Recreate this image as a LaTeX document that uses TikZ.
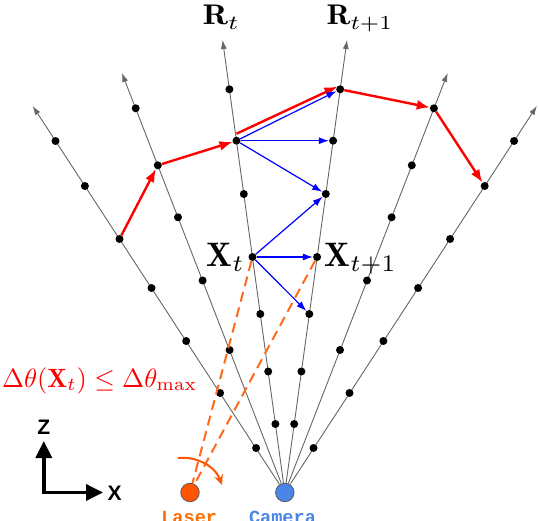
\documentclass[tikz,border=0pt]{standalone}
\usepackage{graphicx}
\usepackage{fontspec}
\newfontfamily\axfont{Liberation Sans}
\newfontfamily\mfont{Liberation Mono}
\usetikzlibrary{arrows.meta}
\definecolor{raygray}{HTML}{666666}
\definecolor{laserorange}{HTML}{FF5500}
\definecolor{dashorange}{HTML}{FF6A1A}
\definecolor{lasertext}{HTML}{FF6D01}
\definecolor{camblue}{HTML}{4A86E8}
\definecolor{edgegray}{HTML}{5A5A5A}
\pgfdeclarelayer{bg}
\pgfsetlayers{bg,main}
\begin{document}
\begin{tikzpicture}[x=1pt,y=-1pt,
  ray/.style={draw=raygray, line width=0.9pt, -{Latex[length=9pt,width=6pt]}},
  dot/.style={circle, fill=black, inner sep=0pt, minimum size=8pt},
  redarrow/.style={draw=red, line width=2.4pt, -{Latex[length=13pt,width=10pt]}},
  bluearrow/.style={draw=blue, line width=1.2pt, -{Latex[length=10pt,width=7pt]}},
  dashline/.style={draw=dashorange, line width=2pt, dash pattern=on 10pt off 6pt},
  sensor/.style={circle, draw=edgegray, line width=0.8pt, inner sep=0pt, minimum size=18.5pt},
  lbl/.style={inner sep=0pt, anchor=base},
  axis/.style={draw=black, line width=3.5pt, {Triangle[length=17pt,width=16pt]}-{Triangle[length=17pt,width=16pt]}},
  arcarrow/.style={draw=laserorange, line width=2pt, -{Stealth[length=10pt,width=9pt]}}
]
\useasboundingbox (0,0) rectangle (538,521);

% sensors
\node[sensor, fill=camblue] (cam) at (284.8,492.5) {};
\node[sensor, fill=laserorange] (laser) at (190,492.5) {};

% ray tips
\coordinate (t1) at (32.7,106);
\coordinate (t2) at (121.9,73);
\coordinate (t3) at (222.6,40);
\coordinate (t4) at (347.0,40);
\coordinate (t5) at (447.7,73);
\coordinate (t6) at (536.9,106);

\begin{pgfonlayer}{bg}
\foreach \t in {t1,t2,t3,t4,t5,t6} \draw[ray] (cam) -- (\t);
\end{pgfonlayer}

% dots ray 1
\node[dot] (a1) at (55.5,141) {};
\node[dot] (a2) at (84.9,186) {};
\node[dot] (a3) at (119.5,239) {};
\node[dot] (a4) at (151.5,288) {};
\node[dot] (a5) at (186.2,341) {};
\node[dot] (a6) at (220.1,393) {};
\node[dot] (a7) at (256.1,448) {};
% ray 2
\node[dot] (b1) at (135.7,108.3) {};
\node[dot] (b2) at (157.8,165.3) {};
\node[dot] (b3) at (178.0,217.3) {};
\node[dot] (b4) at (202.6,280.5) {};
\node[dot] (b5) at (229.6,350) {};
% ray 3
\node[dot] (c1) at (229.4,89.3) {};
\node[dot] (c2) at (236.5,140.7) {};
\node[dot] (c3) at (243.8,194) {};
\node[dot] (c4) at (252.5,257) {};
\node[dot] (c5) at (260.3,314) {};
\node[dot] (c6) at (268.2,371.5) {};
\node[dot] (c7) at (275.4,424) {};
% ray 4
\node[dot] (d1) at (340.2,89.3) {};
\node[dot] (d2) at (333.1,140.7) {};
\node[dot] (d3) at (325.8,194) {};
\node[dot] (d4) at (317.1,257) {};
\node[dot] (d5) at (309.3,314) {};
\node[dot] (d6) at (301.4,371.5) {};
\node[dot] (d7) at (294.2,424) {};
% ray 5
\node[dot] (e1) at (433.9,108.3) {};
\node[dot] (e2) at (411.8,165.3) {};
\node[dot] (e3) at (391.6,217.3) {};
\node[dot] (e4) at (367.0,280.5) {};
\node[dot] (e5) at (340.0,350) {};
% ray 6
\node[dot] (f1) at (514.1,141) {};
\node[dot] (f2) at (484.7,186) {};
\node[dot] (f3) at (450.1,239) {};
\node[dot] (f4) at (418.1,288) {};
\node[dot] (f5) at (383.4,341) {};
\node[dot] (f6) at (349.5,393) {};
\node[dot] (f7) at (313.5,448) {};

% red path
\draw[redarrow] (a3) -- (b2);
\draw[redarrow] (b2) -- (c2);
\draw[redarrow, shorten >=3pt] ([yshift=7pt]c2.center) -- ([yshift=4pt]d1.center);
\draw[redarrow] (d1) -- (e1);
\draw[redarrow] (e1) -- (f2);

% blue arrows
\draw[bluearrow] (c2) -- (d1);
\draw[bluearrow] (c2) -- (d2);
\draw[bluearrow] (c2) -- (d3);
\draw[bluearrow] (c4) -- (d3);
\draw[bluearrow] (c4) -- (d4);
\draw[bluearrow] (c4) -- (d5);

% laser rays
\draw[dashline] (c4) -- (laser);
\draw[dashline] (d4) -- (laser);

% rotation arrow
\coordinate (arcS) at (178,458);
\coordinate (arcE) at (222,485);
\draw[arcarrow] (arcS) .. controls (196,456) and (215,466) .. (arcE);

% labels
\node[lbl] (Rt) at (221.3,25) {\resizebox{37.3pt}{19.5pt}{$\mathbf{R}_t$}};
\node[lbl] (Rt1) at (360,25) {\resizebox{66.7pt}{19.5pt}{$\mathbf{R}_{t+1}$}};
\node[lbl] (Xt) at (225.8,266.7) {\resizebox{!}{23.3pt}{$\mathbf{X}_t$}};
\node[lbl] (Xt1) at (360.8,266.7) {\resizebox{!}{23.3pt}{$\mathbf{X}_{t+1}$}};
\node[lbl, text=red] (cond) at (99.5,387) {\resizebox{195pt}{!}{$\Delta\theta(\mathbf{X}_t) \leq \Delta\theta_{\max}$}};

% axes
\coordinate (O) at (43.8,492.5);
\coordinate (zt) at (43.8,441);
\coordinate (xt) at (103,492.5);
\draw[axis] (zt) -- (O) -- (xt);
\node (zl) at (43.8,427.5) {\axfont\bfseries\fontsize{21}{24}\selectfont Z};
\node (xl) at (114.7,493.3) {\axfont\bfseries\fontsize{21}{24}\selectfont X};

% sensor labels
\node[lbl, text=lasertext] (lt) at (189.2,523) {\mfont\bfseries\fontsize{18.6}{20}\selectfont Laser};
\node[lbl, text=camblue] (ct) at (282.5,523) {\mfont\bfseries\fontsize{18.6}{20}\selectfont Camera};
\end{tikzpicture}
\end{document}
